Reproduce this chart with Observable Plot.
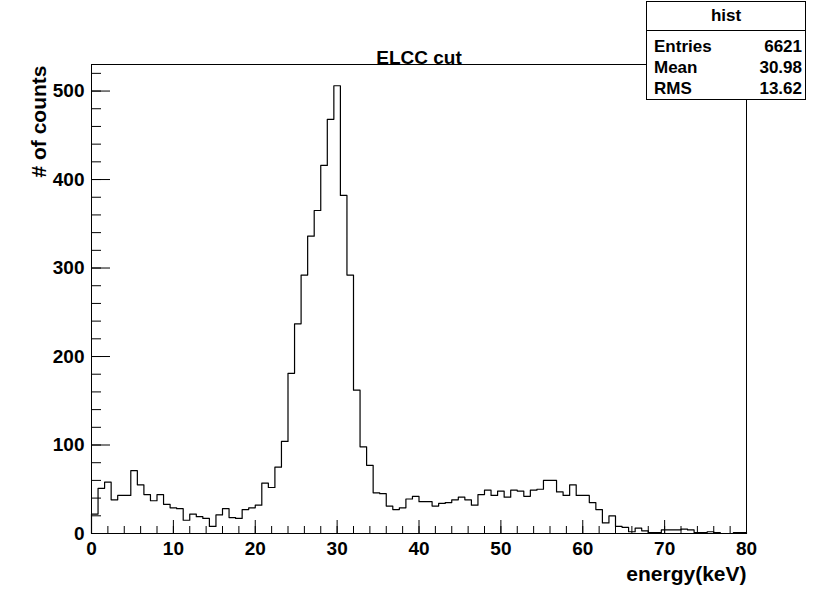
<!DOCTYPE html>
<html>
<head>
<meta charset="utf-8">
<script src="https://cdn.jsdelivr.net/npm/d3@7"></script>
<script src="https://cdn.jsdelivr.net/npm/@observablehq/plot@0.6"></script>
<style>
  html, body { margin: 0; padding: 0; background: #fff; }
  #wrap { position: relative; width: 814px; height: 589px; font-family: "Liberation Sans", Arial, sans-serif; font-weight: bold; }
  #stats { position: absolute; left: 646px; top: 1px; width: 160px; height: 99px; background: #fff; border: 1px solid #000; box-sizing: border-box; font-size: 17px; }
  #stats .head { height: 28px; line-height: 28px; text-align: center; border-bottom: 1px solid #000; }
  #stats .row { display: flex; justify-content: space-between; padding: 0 3px 0 7px; height: 21px; line-height: 21px; }
  #stats .head + .row { margin-top: 5px; }
</style>
</head>
<body>
<div id="wrap"></div>
<script>
// ---- data ----
const histTitle = "ELCC cut";
const histName = "hist";
const xLabel = "energy(keV)";
const yLabel = "# of counts";
const xMin = 0, xMax = 80, binWidth = 0.8;
const counts = [
  22, 51, 58, 38, 43, 43, 71, 55, 44, 37,
  44, 33, 29, 28, 15, 22, 19, 17,  8, 21,
  28, 18, 17, 27, 29, 32, 57, 52, 75, 104,
  181, 237, 292, 336, 365, 416, 468, 506, 382, 292,
  162, 98, 77, 46, 45, 31, 27, 29, 39, 42,
  36, 36, 31, 34, 35, 38, 41, 38, 32, 44,
  49, 43, 48, 41, 49, 48, 42, 49, 50, 60,
  60, 47, 43, 55, 43, 43, 35, 27, 12, 20,
  8, 7, 2, 6, 3, 1, 1, 4, 4, 4,
  5, 4, 1, 1, 2, 1, 0, 0, 1, 1
];
const xTickLabels = [0, 10, 20, 30, 40, 50, 60, 70, 80];
const xMinorTicks = d3.range(0, 81, 2);
const yTickLabels = [0, 100, 200, 300, 400, 500];
const yMinorTicks = d3.range(0, 521, 20);
const statNames = ["Entries", "Mean", "RMS"];
const statValues = ["6621", "30.98", "13.62"];
const yMax = 530;

// ---- build step outline ----
const pts = [{x: xMin, y: 0}];
counts.forEach((c, i) => pts.push({x: xMin + i * binWidth, y: c}));
pts.push({x: xMax, y: counts[counts.length - 1]});
pts.push({x: xMax, y: 0});

const W = 814, H = 589, mL = 91, mR = 68, mT = 64, mB = 56;
const fw = W - mL - mR, fh = H - mT - mB;

const chart = Plot.plot({
  width: W, height: H,
  marginLeft: mL, marginRight: mR, marginTop: mT, marginBottom: mB,
  style: {fontFamily: "Liberation Sans, Arial, sans-serif", fontWeight: "bold", fontSize: "19px", color: "#000", background: "#fff"},
  x: {domain: [xMin, xMax]},
  y: {domain: [0, yMax]},
  marks: [
    Plot.tickX(xMinorTicks, {x: d => d, insetTop: fh - 7, stroke: "#000"}),
    Plot.tickX(xTickLabels, {x: d => d, insetTop: fh - 13, stroke: "#000"}),
    Plot.tickY(yMinorTicks, {y: d => d, insetRight: fw - 10, stroke: "#000"}),
    Plot.tickY(yTickLabels, {y: d => d, insetRight: fw - 19, stroke: "#000"}),
    Plot.axisX({ticks: xTickLabels, tickSize: 0, tickPadding: 8, label: null, fontSize: 19, tickFormat: d => String(d)}),
    Plot.axisY({ticks: yTickLabels, tickSize: 0, tickPadding: 7, label: null, fontSize: 19, tickFormat: d => String(d)}),
    Plot.line(pts, {x: "x", y: "y", curve: "step-after", stroke: "#000", strokeWidth: 1.2}),
    Plot.frame({stroke: "#000"}),
    Plot.text([histTitle], {text: d => d, frameAnchor: "top", dy: -14, fontSize: 19, fontWeight: "bold"}),
    Plot.text([xLabel], {text: d => d, frameAnchor: "bottom-right", textAnchor: "end", dy: 47, fontSize: 21, fontWeight: "bold"}),
    Plot.text([yLabel], {text: d => d, frameAnchor: "top-left", textAnchor: "end", rotate: -90, dx: -60, dy: 1, fontSize: 21, fontWeight: "bold"})
  ]
});

const wrap = document.getElementById("wrap");
wrap.appendChild(chart);
chart.style.position = "absolute";
chart.style.left = "0";
chart.style.top = "0";

const stats = document.createElement("div");
stats.id = "stats";
let html = `<div class="head">${histName}</div>`;
statNames.forEach((n, i) => { html += `<div class="row"><span>${n}</span><span>${statValues[i]}</span></div>`; });
stats.innerHTML = html;
wrap.appendChild(stats);
</script>
</body>
</html>
